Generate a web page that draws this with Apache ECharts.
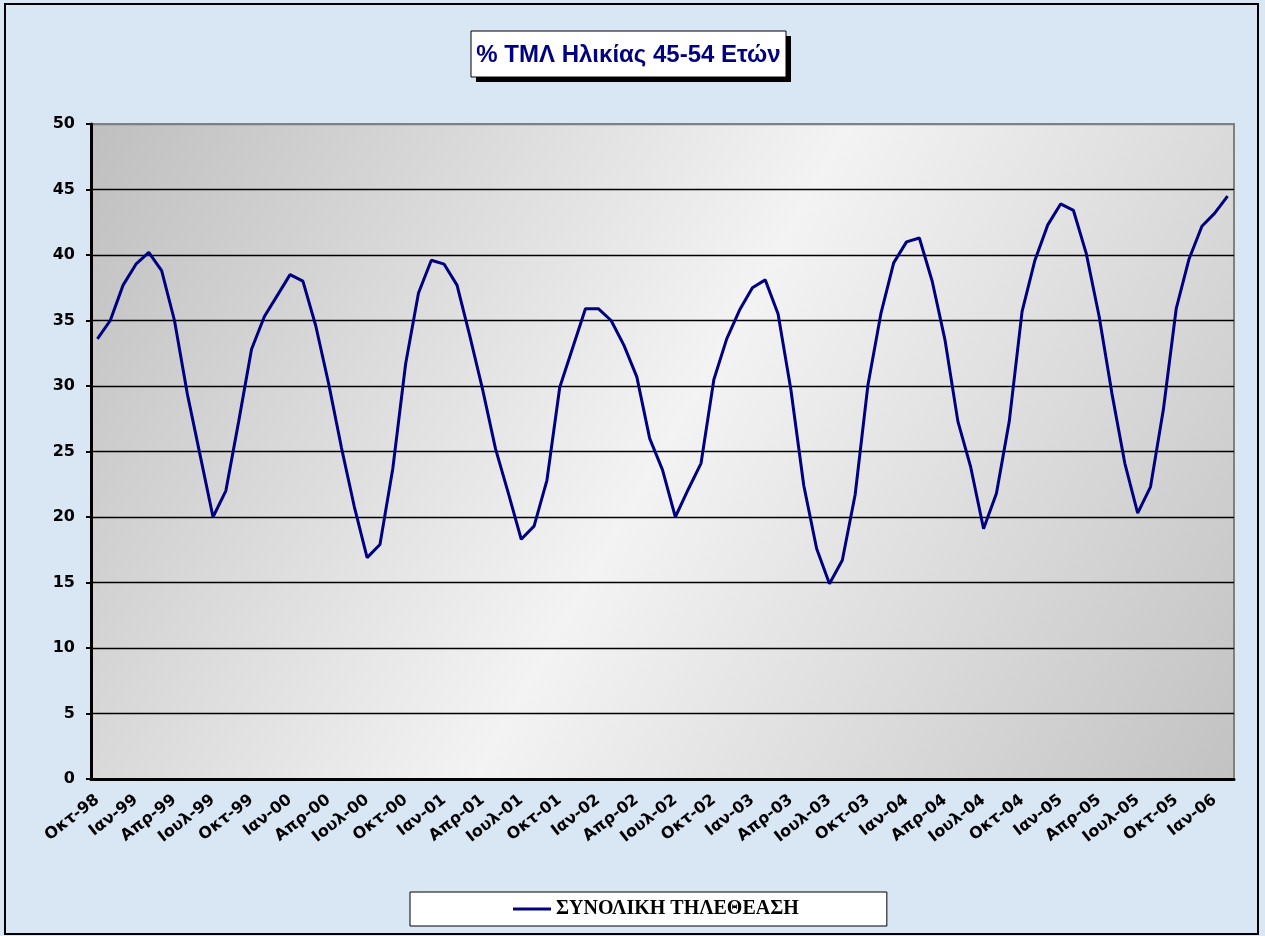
<!DOCTYPE html>
<html>
<head>
<meta charset="utf-8">
<title>% ΤΜΛ Ηλικίας 45-54 Ετών</title>
<script src="https://cdn.jsdelivr.net/npm/echarts@6/dist/echarts.min.js"></script>
<style>
  html, body { margin: 0; padding: 0; background: #d9e6f4; }
  #chart { width: 1265px; height: 936px; }
</style>
</head>
<body>
<div id="chart"></div>
<script>
// month names used for the category labels (Οκτ-98 ... Φεβ-06)
const monthNames = ["Ιαν", "Φεβ", "Μαρ", "Απρ", "Μαϊ", "Ιουν", "Ιουλ", "Αυγ", "Σεπ", "Οκτ", "Νοε", "Δεκ"];
const startMonth = 9;   // Οκτ
const startYear = 1998;
const monthCount = 89;

const categories = [];
for (let i = 0; i < monthCount; i++) {
  const m = (startMonth + i) % 12;
  const y = startYear + Math.floor((startMonth + i) / 12);
  categories.push(monthNames[m] + "-" + String(y % 100).padStart(2, "0"));
}

// % ΤΜΛ
const totalViewing = [
  33.6, 35.0, 37.7, 39.3, 40.2, 38.8, 35.0, 29.4, 24.7, 20.0, 22.0, 27.3,
  32.8, 35.3, 36.9, 38.5, 38.0, 34.6, 30.2, 25.3, 20.8, 16.9, 17.9, 23.7,
  31.7, 37.1, 39.6, 39.3, 37.7, 33.8, 29.7, 25.2, 21.8, 18.3, 19.3, 22.8,
  29.9, 32.9, 35.9, 35.9, 35.0, 33.1, 30.7, 26.0, 23.6, 20.0, 22.1, 24.1,
  30.5, 33.6, 35.8, 37.5, 38.1, 35.5, 29.7, 22.4, 17.6, 14.9, 16.7, 21.7,
  30.1, 35.5, 39.4, 41.0, 41.3, 38.0, 33.5, 27.3, 23.8, 19.1, 21.8, 27.3,
  35.7, 39.6, 42.3, 43.9, 43.4, 40.1, 35.3, 29.4, 24.1, 20.3, 22.3, 28.2,
  35.9, 39.7, 42.2, 43.2, 44.5
];

const seriesName = "ΣΥΝΟΛΙΚΗ ΤΗΛΕΘΕΑΣΗ";
const titleText = "% ΤΜΛ Ηλικίας 45-54 Ετών";

const axisFont = "'DejaVu Sans', Verdana, sans-serif";

const option = {
  backgroundColor: "#d9e6f4",
  animation: false,
  legend: {
    data: [seriesName],
    left: 410,
    top: 892,
    padding: [7, 88, 7, 103],
    backgroundColor: "#fff",
    borderColor: "#000",
    borderWidth: 1,
    icon: "rect",
    itemWidth: 38,
    itemHeight: 3,
    itemGap: 5,
    textStyle: {
      color: "#000",
      fontWeight: "bold",
      fontSize: 20,
      fontFamily: "'Liberation Serif', 'Times New Roman', serif",
    },
  },
  grid: {
    left: 91,
    top: 124,
    right: 31,
    bottom: 157,
    show: true,
    borderColor: "#808080",
    borderWidth: 2,
    // diagonal grey shading of the plot area
    backgroundColor: {
      type: "linear",
      x: 0, y: 0, x2: 1, y2: 1,
      colorStops: [
        { offset: 0, color: "#bfbfbf" },
        { offset: 0.5, color: "#f3f3f3" },
        { offset: 1, color: "#c2c2c2" },
      ],
    },
  },
  xAxis: [
    {
      type: "category",
      data: categories,
      boundaryGap: true,
      axisLine: { lineStyle: { color: "#000", width: 3 } },
      axisTick: { interval: 0, inside: true, length: 5, lineStyle: { color: "#000", width: 2 } },
      axisLabel: {
        interval: 2,
        rotate: 38,
        margin: 19,
        color: "#000",
        fontWeight: "bold",
        fontSize: 16,
        fontFamily: axisFont,
      },
      splitLine: { show: false },
    },
    {
      // major ticks every 3 months, pointing down
      type: "category",
      data: categories,
      position: "bottom",
      boundaryGap: true,
      axisLine: { show: false },
      axisTick: { interval: 2, length: 6, lineStyle: { color: "#000", width: 2 } },
      axisLabel: { show: false },
      splitLine: { show: false },
    },
  ],
  yAxis: {
    type: "value",
    min: 0,
    max: 50,
    interval: 5,
    axisLine: { show: true, lineStyle: { color: "#000", width: 3 } },
    axisTick: { show: true, length: 5, lineStyle: { color: "#000", width: 2 } },
    axisLabel: {
      margin: 16,
      color: "#000",
      fontWeight: "bold",
      fontSize: 16,
      fontFamily: axisFont,
    },
    splitLine: {
      lineStyle: {
        color: ["#000", "#000", "#000", "#000", "#000", "#000", "#000", "#000", "#000", "#000", "#808080"],
        width: 1.3,
      },
    },
  },
  series: [
    {
      name: seriesName,
      type: "line",
      xAxisIndex: 0,
      data: totalViewing,
      symbol: "none",
      lineStyle: { color: "#000080", width: 3 },
      itemStyle: { color: "#000080" },
    },
  ],
  graphic: [
    {
      // outer frame of the picture
      type: "rect",
      shape: { x: 5, y: 4, width: 1253, height: 930 },
      style: { fill: "none", stroke: "#000", lineWidth: 2 },
      silent: true,
    },
    {
      // title box shadow
      type: "rect",
      shape: { x: 476, y: 36, width: 315, height: 46 },
      style: { fill: "#000" },
      silent: true,
    },
    {
      type: "rect",
      shape: { x: 471, y: 31, width: 315, height: 46 },
      style: { fill: "#fff", stroke: "#000", lineWidth: 1 },
      silent: true,
    },
    {
      type: "text",
      x: 628.5,
      y: 55,
      style: {
        text: titleText,
        fill: "#000080",
        fontWeight: "bold",
        fontSize: 24,
        fontFamily: "'Liberation Sans Narrow', 'Liberation Sans', Arial, sans-serif",
        align: "center",
        verticalAlign: "middle",
      },
      silent: true,
    },
  ],
};

const myChart = echarts.init(document.getElementById("chart"));
myChart.setOption(option);
</script>
</body>
</html>
